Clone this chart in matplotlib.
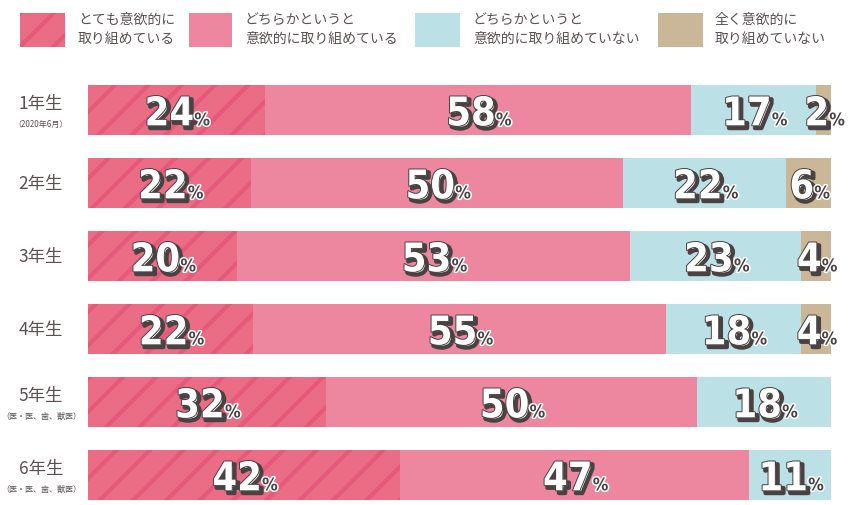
import matplotlib
matplotlib.use("Agg")
import matplotlib.pyplot as plt
import matplotlib.patheffects as pe
import matplotlib.transforms as mtransforms
from matplotlib.patches import Rectangle
import numpy as np

plt.rcParams['font.family'] = ['Noto Sans CJK JP', 'DejaVu Sans']
plt.rcParams['hatch.linewidth'] = 3.0

# ===== データ =====
GRADES = ["1年生", "2年生", "3年生", "4年生", "5年生", "6年生"]
SUBS = ["（2020年6月）", "", "", "", "（医・医、歯、獣医）", "（医・医、歯、獣医）"]
CATEGORIES = ["とても意欲的に\n取り組めている",
              "どちらかというと\n意欲的に取り組めている",
              "どちらかというと\n意欲的に取り組めていない",
              "全く意欲的に\n取り組めていない"]
V_VERY = [24, 22, 20, 22, 32, 42]
V_SOME = [58, 50, 53, 55, 50, 47]
V_NOT = [17, 22, 23, 18, 18, 11]
V_NONE = [2, 6, 4, 4, 0, 0]

COLORS = ["#ea6d85", "#ed87a0", "#bbe0e6", "#cab797"]
STRIPE = "#e5597a"
TXT = "#5a5151"
DARK = "#4a4242"

W, H = 854, 506
fig = plt.figure(figsize=(W / 100, H / 100), dpi=100)


def fx(x):
    return x / W


def fy(y):
    return 1 - y / H


# ===== 棒グラフ =====
ax = fig.add_axes([fx(88), fy(501), 743 / W, 415 / H])
data = np.array([V_VERY, V_SOME, V_NOT, V_NONE], dtype=float)
share = data / data.sum(axis=0) * 100
ypos = np.arange(len(GRADES))
bh = 50 / 73
left = np.zeros(len(GRADES))
for k in range(4):
    if k == 0:
        ax.barh(ypos, share[k], left=left, height=bh, color=COLORS[k],
                edgecolor=STRIPE, hatch="/", linewidth=0)
    else:
        ax.barh(ypos, share[k], left=left, height=bh, color=COLORS[k], linewidth=0)
    left += share[k]
ax.set_xlim(0, 100)
ax.set_ylim(5 + bh / 2, -bh / 2)
ax.axis("off")

# ===== 数値ラベル =====
renderer = fig.canvas.get_renderer()
num_fx = [pe.Stroke(linewidth=3, foreground=DARK, offset=(2, -2)),
          pe.Stroke(linewidth=1.4, foreground=DARK), pe.Normal()]
pct_fx = [pe.Stroke(linewidth=2.2, foreground="white"), pe.Normal()]
left = np.zeros(len(GRADES))
for k in range(4):
    for i in range(len(GRADES)):
        v = data[k, i]
        if v <= 0:
            continue
        cx = left[i] + share[k, i] / 2
        yb = i + 0.21
        t1 = ax.text(cx, yb, f"{int(v)}", ha="right", va="baseline",
                     fontsize=28.5, fontweight="bold", color="white",
                     family="DejaVu Sans", fontstretch="condensed",
                     path_effects=num_fx, zorder=5)
        t2 = ax.text(cx, yb, "%", ha="left", va="baseline",
                     fontsize=12.5, fontweight="bold", color=DARK,
                     family="DejaVu Sans", fontstretch="condensed",
                     path_effects=pct_fx, zorder=5)
        w1 = t1.get_window_extent(renderer).width
        w2 = t2.get_window_extent(renderer).width
        dx = (w1 - w2) / 2 + 1
        tr = mtransforms.offset_copy(ax.transData, fig=fig, x=dx, y=0, units="dots")
        t1.set_transform(tr)
        t2.set_transform(tr)
    left += share[k]

# ===== 学年ラベル =====
row_y = [111, 184, 257, 330, 403, 476]
for i, g in enumerate(GRADES):
    if SUBS[i]:
        fig.text(fx(41), fy(row_y[i] - 7), g, ha="center", va="center",
                 fontsize=12.5, color=TXT)
        fig.text(fx(41), fy(row_y[i] + 13), SUBS[i], ha="center", va="center",
                 fontsize=5.8, color=TXT)
    else:
        fig.text(fx(41), fy(row_y[i]), g, ha="center", va="center",
                 fontsize=12.5, color=TXT)

# ===== 凡例 =====
sw_x = [20, 189, 415, 658]
sw_w = [45, 43, 45, 45]
tx_x = [78, 245, 473, 715]
for k in range(4):
    r = Rectangle((fx(sw_x[k]), fy(48)), sw_w[k] / W, 34 / H,
                  transform=fig.transFigure, facecolor=COLORS[k],
                  edgecolor=STRIPE if k == 0 else "none",
                  hatch="/" if k == 0 else None, linewidth=0)
    fig.add_artist(r)
    fig.text(fx(tx_x[k]), fy(29), CATEGORIES[k], ha="left", va="center",
             fontsize=10, color=TXT, linespacing=1.45)

fig.savefig("out.png", dpi=100)
